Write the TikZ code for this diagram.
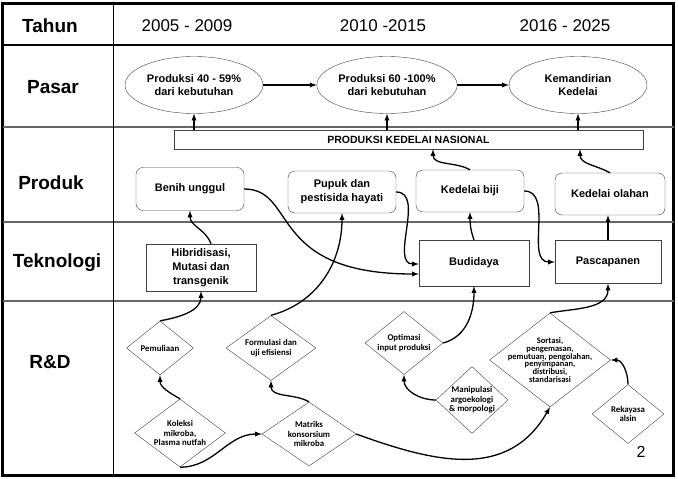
\documentclass[tikz,border=0pt]{standalone}
\usepackage{fontspec}
\setmainfont{Liberation Sans}
\newfontfamily\rdfont{Carlito}
\usetikzlibrary{shapes,positioning,arrows,calc}

\begin{document}
\begin{tikzpicture}[x=1pt, y=1pt, >=latex,
	every node/.style={align=center, inner sep=1pt, font=\bfseries},
	head/.style={font=\bfseries\fontsize{19}{21}\selectfont},
	year/.style={font=\fontsize{17}{19}\selectfont},
	oval/.style={ellipse, draw=black!75, minimum width=138pt, minimum height=57pt, font=\bfseries\fontsize{11}{12.5}\selectfont},
	box/.style={rectangle, draw=black!75, font=\bfseries\fontsize{11}{14}\selectfont},
	rbox/.style={box, rounded corners=7pt},
	rd/.style={diamond, draw=black!75, inner sep=-10pt, font=\rdfont\bfseries\fontsize{8.8}{9.4}\selectfont},
	arr/.style={->, line width=1.3pt}]
				\useasboundingbox (0,0) rectangle (678,-479);
				\draw[line width=3pt] (2.5,-3) rectangle (673.5,-475.5);
				\draw[line width=1.2pt] (2.5,-45) -- (673.5,-45);
				\draw[line width=1.5pt, black!60] (2.5,-127) -- (673.5,-127);
				\draw[line width=1.5pt, black!60] (2.5,-222) -- (673.5,-222);
				\draw[line width=1.5pt, black!60] (2.5,-301) -- (673.5,-301);
				\draw[line width=0.9pt] (113,-3) -- (113,-475.5);
				
				\node[head] (tahun) at (50,-26) {Tahun};
				\node[head] (pasar) at (53,-87) {Pasar};
				\node[head] (produk) at (51,-183) {Produk};
				\node[head] (tekno) at (57,-263) {Teknologi};
				\node[head] (rnd) at (50,-362) {R\&D};
				\node[year] (th1) at (187,-26) {2005 - 2009};
				\node[year] (th2) at (383,-26) {2010 -2015};
				\node[year] (th3) at (565,-26) {2016 - 2025};
				
				\node[oval] (e1) at (194,-85) {Produksi 40 - 59\%\\dari kebutuhan};
				\node[oval] (e2) at (387,-85) {Produksi 60 -100\%\\dari kebutuhan};
				\node[oval] (e3) at (578,-85) {Kemandirian\\Kedelai};
				\node[box, minimum width=469pt, minimum height=19pt, font=\bfseries\fontsize{10.5}{12}\selectfont] (pkn) at (408.5,-139.5) {PRODUKSI KEDELAI NASIONAL};
				
				\node[rbox, minimum width=108pt, minimum height=43pt] (benih) at (190,-189) {Benih unggul};
				\node[rbox, minimum width=108pt, minimum height=42pt] (pupuk) at (342,-192) {Pupuk dan\\pestisida hayati};
				\node[rbox, minimum width=108pt, minimum height=42pt] (kb) at (470,-191) {Kedelai biji};
				\node[rbox, minimum width=110pt, minimum height=42pt] (ko) at (610,-194) {Kedelai olahan};
				
				\node[box, minimum width=110pt, minimum height=47pt] (hib) at (201,-267.5) {Hibridisasi,\\Mutasi dan\\transgenik};
				\node[box, minimum width=110pt, minimum height=46pt] (bud) at (474,-263) {Budidaya};
				\node[box, minimum width=106pt, minimum height=43pt] (pasc) at (608,-262) {Pascapanen};
				
				\node[rd, minimum width=67pt, minimum height=54pt] (pem) at (160,-348) {Pemuliaan};
				\node[rd, minimum width=90pt, minimum height=65pt] (form) at (271,-348) {Formulasi dan\\uji efisiensi};
				\node[rd, minimum width=91pt, minimum height=68pt] (kol) at (180,-433) {Koleksi\\mikroba,\\Plasma nutfah};
				\node[rd, minimum width=94pt, minimum height=64pt] (mat) at (309,-434) {Matriks\\konsorsium\\mikroba};
				\node[rd, minimum width=78pt, minimum height=63pt] (opt) at (404,-343) {Optimasi\\input produksi};
				\node[rd, minimum width=72pt, minimum height=67pt] (man) at (472,-400) {Manipulasi\\argoekologi\\\& morpologi};
				\node[rd, minimum width=121pt, minimum height=94pt, font=\rdfont\bfseries\fontsize{8.5}{7.8}\selectfont] (sor) at (550,-360) {Sortasi,\\pengemasan,\\pemutuan, pengolahan,\\penyimpanan,\\distribusi,\\standarisasi};
				\node[rd, minimum width=72pt, minimum height=59pt] (rek) at (628,-414) {Rekayasa\\alsin};
				\node[font=\fontsize{16}{18}\selectfont] (hal) at (641,-452) {2};
				
				\draw[arr] (e1) -- (e2);
				\draw[arr] (e2) -- (e3);
				\draw[arr] (pkn.north -| e1) -- (e1);
				\draw[arr] (pkn.north -| e2) -- (e2);
				\draw[arr] (pkn.north -| e3) -- (e3);
				\draw[arr] (kb.north) to[out=150,in=-90] ($(kb.north |- pkn.south)+(-37,0)$);
				\draw[arr] (ko.north) to[out=150,in=-90] ($(ko.north |- pkn.south)+(-30,0)$);
				
				\draw[arr] ([xshift=10pt]hib.north) to[out=110,in=-90] (benih.south);
				\draw[arr] (benih.east) to[out=0,in=180,out looseness=0.7,in looseness=2] ([yshift=-11pt]bud.west);
				\draw[arr] (pupuk.east) to[out=0,in=180] ([yshift=-1pt]bud.west);
				\draw[arr] (bud.north) to[out=110,in=-90] (kb.south);
				\draw[arr] (kb.east) to[out=0,in=180] (pasc.west);
				\draw[arr] (pasc.north) -- (pasc.north |- ko.south);
				
				\draw[arr] (pem.north) to[out=10,in=-90] (hib.south);
				\draw[arr] (form.north) to[out=15,in=-90] (pupuk.south);
				\draw[arr] (kol.north) to[out=150,in=-90] (pem.south);
				\draw[arr] (kol.south) to[out=0,in=180] (mat.west);
				\draw[arr] (mat.north) to[out=150,in=-90] (form.south);
				\draw[arr] (mat.east) to[out=-20,in=-120,looseness=1.1] (sor.south);
				\draw[arr] (opt.east) to[out=15,in=-90] (bud.south);
				\draw[arr] (man.west) to[out=180,in=-90] (opt.south);
				\draw[arr] (sor.north) to[out=10,in=-90] (pasc.south);
				\draw[arr] (rek.north) to[out=90,in=0] (sor.east);
\end{tikzpicture}
\end{document}
